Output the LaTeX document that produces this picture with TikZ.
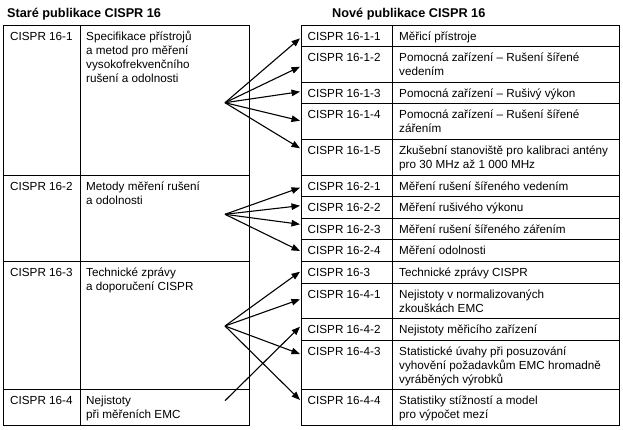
\documentclass[tikz,border=0pt]{standalone}
\usepackage{fontspec}
\setmainfont{Liberation Sans}
\usetikzlibrary{arrows.meta}
\tikzset{
  lab/.style={anchor=base west, inner sep=0pt, align=left, font=\fontsize{11.7}{14}\selectfont},
  hdr/.style={anchor=base west, inner sep=0pt, font=\bfseries\fontsize{12.7}{15}\selectfont},
  gridline/.style={line width=0.9pt},
  arr/.style={line width=1.1pt, -{Triangle[length=8.5pt,width=6.5pt]}}
}
\begin{document}
\begin{tikzpicture}[x=1pt,y=-1pt]
\useasboundingbox (0,0) rectangle (623,429);
% headers
\node[hdr] (hleft) at (7,17.5) {Staré publikace CISPR 16};
\node[hdr] (hright) at (332,17.5) {Nové publikace CISPR 16};
% left table grid
\draw[gridline] (3,25) rectangle (249.3,425.4);
\draw[gridline] (80.5,25) -- (80.5,425.4);
\foreach \yy in {175,261.4,389.8} \draw[gridline] (3,\yy) -- (249.3,\yy);
% right table grid
\draw[gridline] (301.7,25) rectangle (619.5,425.4);
\draw[gridline] (392,25) -- (392,425.4);
\foreach \yy in {46.6,82.2,103.8,139.4,175,196.6,218.2,239.8,261.4,283,318.6,340.2,389.8}
  \draw[gridline] (301.7,\yy) -- (619.5,\yy);
% left texts (multi-line nodes are placed by the baseline of their last line)
\node[lab] (l1) at (10,40) {CISPR 16-1};
\node[lab] (l1d) at (86,82) {Specifikace přístrojů\\a metod pro měření\\vysokofrekvenčního\\rušení a odolnosti};
\node[lab] (l2) at (10,190) {CISPR 16-2};
\node[lab] (l2d) at (86,204) {Metody měření rušení\\a odolnosti};
\node[lab] (l3) at (10,276.4) {CISPR 16-3};
\node[lab] (l3d) at (86,290.4) {Technické zprávy\\a doporučení CISPR};
\node[lab] (l4) at (10,404.8) {CISPR 16-4};
\node[lab] (l4d) at (86,418.8) {Nejistoty\\při měřeních EMC};
% right texts
\node[lab] (r11) at (307.5,40) {CISPR 16-1-1};
\node[lab] (r11d) at (399,40) {Měřicí přístroje};
\node[lab] (r12) at (307.5,61.6) {CISPR 16-1-2};
\node[lab] (r12d) at (399,75.6) {Pomocná zařízení – Rušení šířené\\vedením};
\node[lab] (r13) at (307.5,97.2) {CISPR 16-1-3};
\node[lab] (r13d) at (399,97.2) {Pomocná zařízení – Rušivý výkon};
\node[lab] (r14) at (307.5,118.8) {CISPR 16-1-4};
\node[lab] (r14d) at (399,132.8) {Pomocná zařízení – Rušení šířené\\zářením};
\node[lab] (r15) at (307.5,154.4) {CISPR 16-1-5};
\node[lab] (r15d) at (399,168.4) {Zkušební stanoviště pro kalibraci antény\\pro 30 MHz až 1~000 MHz};
\node[lab] (r21) at (307.5,190) {CISPR 16-2-1};
\node[lab] (r21d) at (399,190) {Měření rušení šířeného vedením};
\node[lab] (r22) at (307.5,211.6) {CISPR 16-2-2};
\node[lab] (r22d) at (399,211.6) {Měření rušivého výkonu};
\node[lab] (r23) at (307.5,233.2) {CISPR 16-2-3};
\node[lab] (r23d) at (399,233.2) {Měření rušení šířeného zářením};
\node[lab] (r24) at (307.5,254.8) {CISPR 16-2-4};
\node[lab] (r24d) at (399,254.8) {Měření odolnosti};
\node[lab] (r3) at (307.5,276.4) {CISPR 16-3};
\node[lab] (r3d) at (399,276.4) {Technické zprávy CISPR};
\node[lab] (r41) at (307.5,298) {CISPR 16-4-1};
\node[lab] (r41d) at (399,312) {Nejistoty v normalizovaných\\zkouškách EMC};
\node[lab] (r42) at (307.5,333.6) {CISPR 16-4-2};
\node[lab] (r42d) at (399,333.6) {Nejistoty měřicího zařízení};
\node[lab] (r43) at (307.5,355.2) {CISPR 16-4-3};
\node[lab] (r43d) at (399,383.2) {Statistické úvahy při posuzování\\vyhovění požadavkům EMC hromadně\\vyráběných výrobků};
\node[lab] (r44) at (307.5,404.8) {CISPR 16-4-4};
\node[lab] (r44d) at (399,418.8) {Statistiky stížností a model\\pro výpočet mezí};
% arrow sources
\coordinate (s1) at (225,102.7);
\coordinate (s2) at (225,214.3);
\coordinate (s3) at (225,326);
\coordinate (s4) at (225,400.7);
% arrow targets
\coordinate (t11) at (300,38.3);
\coordinate (t12) at (300,66.7);
\coordinate (t13) at (300,91.7);
\coordinate (t14) at (300,120.7);
\coordinate (t15) at (300,148.3);
\coordinate (t21) at (300,187.7);
\coordinate (t22) at (300,205.7);
\coordinate (t23) at (300,224.3);
\coordinate (t24) at (300,251);
\coordinate (t3) at (300,271.7);
\coordinate (t41) at (300,299.3);
\coordinate (t42) at (300,326.7);
\coordinate (t43) at (300,354);
\coordinate (t44) at (300,400);
% arrows
\foreach \t in {t11,t12,t13,t14,t15} \draw[arr] (s1) -- (\t);
\foreach \t in {t21,t22,t23,t24} \draw[arr] (s2) -- (\t);
\foreach \t in {t3,t41,t43,t44} \draw[arr] (s3) -- (\t);
\draw[arr] (s4) -- (t42);
\end{tikzpicture}
\end{document}
